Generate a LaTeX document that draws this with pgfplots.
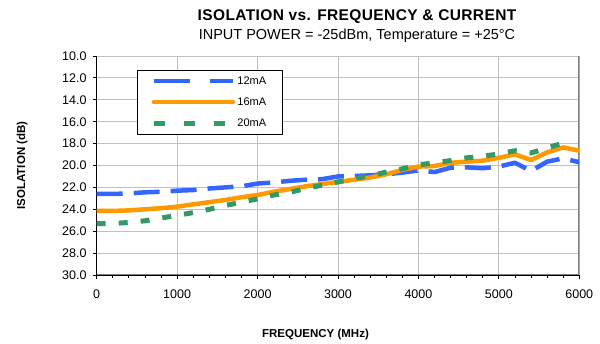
\documentclass[border=0pt]{standalone}
\usepackage{pgfplots}
\pgfplotsset{compat=1.18}
\usepackage{fontspec}
\setmainfont{Liberation Sans}
\definecolor{cblue}{RGB}{51,102,255}
\definecolor{corange}{RGB}{255,153,0}
\definecolor{cgreen}{RGB}{51,153,102}
\definecolor{cgrid}{RGB}{192,192,192}
\definecolor{cframe}{RGB}{128,128,128}
\begin{document}
\begin{tikzpicture}
\useasboundingbox (0,0) rectangle (600pt,344pt);
\begin{axis}[
  at={(96.7pt,69pt)}, anchor=south west,
  scale only axis, width=482.6pt, height=219pt,
  xmin=0, xmax=6000, ymin=10, ymax=30, y dir=reverse,
  xtick={0,1000,...,6000}, ytick={10,12,...,30},
  minor x tick num=4,
  grid=major, major grid style={cgrid, line width=0.9pt},
  axis lines*=left, axis line style={black, line width=1.3pt},
  tick align=outside, major tick length=4pt, minor tick length=3pt,
  tick style={black, line width=0.9pt},
  /pgf/number format/assume math mode=true,
  tick label style={font=\fontsize{12.5}{14}\selectfont, inner sep=0pt},
  yticklabel style={/pgf/number format/.cd, fixed, fixed zerofill, precision=1},
  xticklabel style={/pgf/number format/set thousands separator={}},
  yticklabel shift=6pt, xticklabel shift=11pt,
  legend image code/.code={\draw[#1] (0pt,0pt) -- (79pt,0pt);},
  legend style={at={(rel axis cs:0.0835,0.936)}, anchor=north west,
    draw=black, line width=0.9pt, font=\fontsize{11}{13}\selectfont,
    inner xsep=14pt, inner ysep=4pt, row sep=8pt,
    cells={anchor=west}},
  line join=round,
]
\draw[cframe, line width=1.8pt] (rel axis cs:0,0) -- (rel axis cs:1,0) -- (rel axis cs:1,1);
\addlegendimage{cblue, line width=4.5pt, dash pattern=on 36pt off 20pt}
\addlegendentry{12mA}
\addlegendimage{corange, line width=4.5pt, line cap=round}
\addlegendentry{16mA}
\addlegendimage{cgreen, line width=5pt, dash pattern=on 11pt off 19pt}
\addlegendentry{20mA}
\addplot[forget plot, cblue, line width=4.5pt, dash pattern=on 26pt off 11pt] coordinates {
(0,22.6) (200,22.6) (400,22.55) (600,22.45) (800,22.4) (1000,22.3) (1200,22.24)
(1400,22.1) (1600,22.0) (1800,21.9) (2000,21.65) (2200,21.55) (2400,21.4)
(2600,21.3) (2800,21.25) (3000,21.0) (3200,20.96) (3400,20.9) (3600,20.8)
(3800,20.65) (4000,20.45) (4200,20.6) (4400,20.2) (4600,20.17) (4800,20.25)
(5000,20.1) (5200,19.75) (5400,20.5) (5600,19.65) (5800,19.35) (6000,19.7)};
\addplot[forget plot, corange, line width=4.5pt] coordinates {
(0,24.15) (200,24.15) (400,24.1) (600,24.0) (800,23.9) (1000,23.76) (1200,23.55)
(1400,23.35) (1600,23.15) (1800,22.9) (2000,22.7) (2200,22.4) (2400,22.15)
(2600,21.9) (2800,21.7) (3000,21.5) (3200,21.3) (3400,21.1) (3600,20.8)
(3800,20.4) (4000,20.1) (4200,20.05) (4400,19.75) (4600,19.65) (4800,19.56)
(5000,19.3) (5200,18.98) (5400,19.5) (5600,18.8) (5800,18.35) (6000,18.65)};
\addplot[forget plot, cgreen, line width=5pt, dash pattern=on 9pt off 13pt] coordinates {
(0,25.3) (200,25.3) (400,25.2) (600,25.05) (800,24.8) (1000,24.55) (1200,24.3)
(1400,24.0) (1600,23.65) (1800,23.35) (2000,23.05) (2200,22.7) (2400,22.45)
(2600,22.1) (2800,21.8) (3000,21.5) (3200,21.2) (3400,20.95) (3600,20.6)
(3800,20.3) (4000,19.95) (4200,19.75) (4400,19.55) (4600,19.3) (4800,19.15)
(5000,18.95) (5200,18.65) (5400,18.85) (5600,18.4) (5800,17.95)};
\end{axis}
\node[anchor=base, font=\bfseries\fontsize{15.5}{17}\selectfont\addfontfeature{LetterSpace=2.5}] at (357pt,323.3pt) {ISOLATION vs. FREQUENCY \& CURRENT};
\node[anchor=base, font=\fontsize{14.5}{16}\selectfont] at (357pt,304.7pt) {INPUT POWER = -25dBm, Temperature = +25°C};
\node[anchor=base, font=\bfseries\fontsize{11.5}{13}\selectfont] at (315.5pt,6.5pt) {FREQUENCY (MHz)};
\node[anchor=base, rotate=90, font=\bfseries\fontsize{11.5}{13}\selectfont] at (25pt,178.5pt) {ISOLATION (dB)};
\end{tikzpicture}
\end{document}
